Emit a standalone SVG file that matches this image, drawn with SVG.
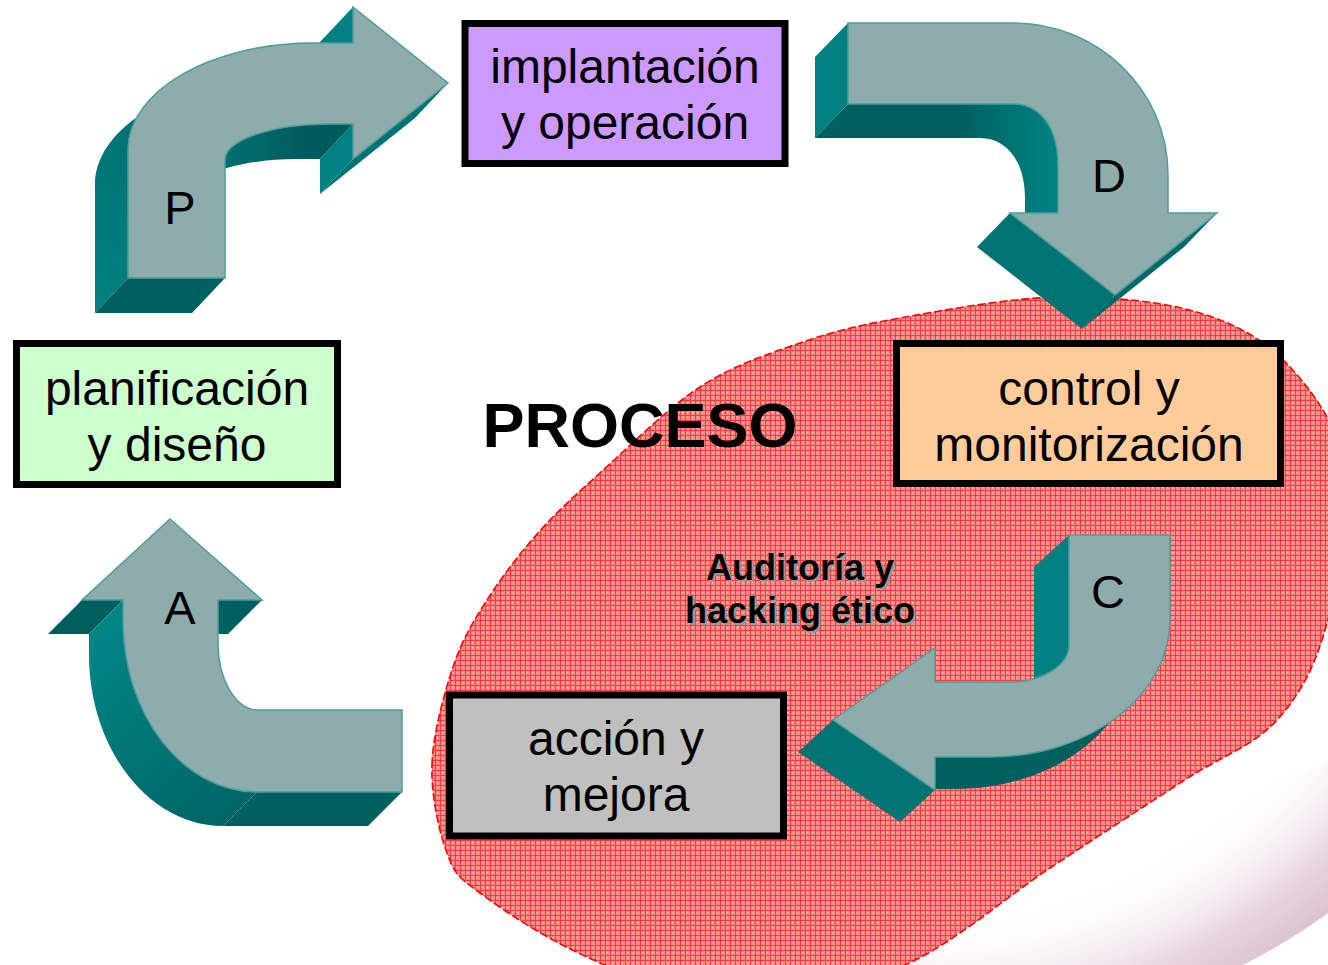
<svg xmlns="http://www.w3.org/2000/svg" width="1328" height="965" viewBox="0 0 1328 965">
  <defs>
    <pattern id="redGrid" width="5" height="5" patternUnits="userSpaceOnUse">
      <rect width="5" height="5" fill="#ff8c8c"/>
      <path d="M0 0.5H5M0.5 0V5" stroke="#ff3a3a" stroke-width="1"/>
      <rect x="2" y="2" width="1" height="1" fill="#ffd4d4"/>
    </pattern>
    <radialGradient id="swoosh" gradientUnits="userSpaceOnUse" cx="900" cy="400" r="668">
      <stop offset="0.78" stop-color="#ffffff" stop-opacity="0"/>
      <stop offset="0.93" stop-color="#e8d6e0"/>
      <stop offset="1" stop-color="#dcc2d2"/>
    </radialGradient>
    <linearGradient id="pCurve" gradientUnits="userSpaceOnUse" x1="100" y1="300" x2="240" y2="70">
      <stop offset="0" stop-color="#008080"/>
      <stop offset="1" stop-color="#006a6a"/>
    </linearGradient>
    <linearGradient id="pUnder" gradientUnits="userSpaceOnUse" x1="225" y1="0" x2="300" y2="0">
      <stop offset="0" stop-color="#006f6f"/>
      <stop offset="1" stop-color="#005c5c"/>
    </linearGradient>
    <linearGradient id="dInner" gradientUnits="userSpaceOnUse" x1="960" y1="0" x2="1045" y2="0">
      <stop offset="0" stop-color="#005f5f"/>
      <stop offset="1" stop-color="#008080"/>
    </linearGradient>
    <linearGradient id="aCurve" gradientUnits="userSpaceOnUse" x1="90" y1="640" x2="250" y2="826">
      <stop offset="0" stop-color="#008585"/>
      <stop offset="1" stop-color="#006262"/>
    </linearGradient>
    <style>
      .face{fill:#8facac;stroke:#4f9d9d;stroke-width:1.5;stroke-linejoin:miter}
      .teal{fill:#008080}
      .dark{fill:#005f5f}
      .mid{fill:#007373}
      .box{stroke:#000;stroke-width:7}
      .lbl{font-family:"Liberation Sans",Arial,sans-serif;font-size:48px;text-anchor:middle;fill:#000}
      .letter{font-family:"Liberation Sans",Arial,sans-serif;font-size:47px;text-anchor:middle;fill:#000}
      .title{font-family:"Liberation Sans",Arial,sans-serif;font-weight:bold;font-size:63px;text-anchor:middle;fill:#000}
      .note{font-family:"Liberation Sans",Arial,sans-serif;font-weight:bold;font-size:36px;text-anchor:middle}
    </style>
  </defs>

  <rect width="1328" height="965" fill="#ffffff"/>

  <!-- corner decoration -->
  <path d="M850,965 L1243,965 Q1290,941 1328,913 L1328,760 Z" fill="url(#swoosh)"/>

  <!-- hatched process area -->
  <g id="process-area">
    <path d="M432,765 C433,734 443.8,694.5 453,667 C462.2,639.5 472.8,622.3 487,600 C501.2,577.7 519.2,554.2 538,533 C556.8,511.8 573,497.3 600,473 C627,448.7 666.7,408.7 700,387 C733.3,365.3 766.7,354.5 800,343 C833.3,331.5 856.7,325.7 900,318 C943.3,310.3 1010,297.8 1060,297 C1110,296.2 1161.7,301.3 1200,313 C1238.3,324.7 1265.8,340.8 1290,367 C1314.2,393.2 1338.8,427.3 1345,470 C1351.2,512.7 1338.3,581.3 1327,623 C1315.7,664.7 1301,693.7 1277,720 C1253,746.3 1220.8,756.3 1183,781 C1145.2,805.7 1096.3,837.3 1050,868 C1003.7,898.7 956.7,941.3 905,965 C853.3,988.7 793,1011.3 740,1010 C696.7,1008.7 630.3,976.5 587,957 C543.7,937.5 503.3,910.3 480,893 C456.7,875.7 455,874.3 447,853 C439,831.7 431,796 432,765 Z" fill="url(#redGrid)" stroke="#ff0000" stroke-width="1.6" stroke-dasharray="8 3"/>
  </g>

  <!-- PDCA arrows -->
  <g id="connectors">
    <g id="arrow-P">
      <path class="teal" d="M353,7 L353,43 L320,78 L320,42 Z"/>
      <path class="mid" d="M353,159 L448,83 L415,118 L320,194 Z"/>
      <path class="teal" d="M353,124 L353,159 L320,194 L320,159 Z"/>
      <path fill="url(#pUnder)" d="M225,160 C225,140 272,124 330,124 L353,124 L320,159 L297,159 C239,159 192,175 192,195 Z"/>
      <path fill="url(#pCurve)" d="M313,43 C211,43 128,91 128,150 L128,278 L95,313 L95,185 C95,126 178,78 280,78 Z"/>
      <path class="dark" d="M128,278 L225,278 L192,313 L95,313 Z"/>
      <path class="face" d="M128,278 L225,278 L225,160 C225,140 272,124 330,124 L353,124 L353,159 L448,83 L353,7 L353,43 L313,43 C211,43 128,91 128,150 Z"/>
      <text class="letter" x="180" y="224">P</text>
    </g>
    <g id="arrow-D">
      <path class="teal" d="M848,23 L848,104 L815,138 L815,57 Z"/>
      <path fill="url(#dInner)" d="M848,104 L1013,104 C1038,104 1058,125 1058,165 L1058,213 L1025,247 L1025,199 C1025,159 1005,138 980,138 L815,138 Z"/>
      <path fill="#006a6a" d="M1217,213 L1115,295 L1082,329 L1184,247 Z"/>
      <path class="mid" d="M1010,213 L1115,295 L1082,329 L977,247 Z"/>
      <path class="face" d="M848,23 L1013,23 C1098,23 1168,90 1168,175 L1168,213 L1217,213 L1115,295 L1010,213 L1058,213 L1058,165 C1058,125 1038,104 1013,104 L848,104 Z"/>
      <text class="letter" x="1109" y="192">D</text>
    </g>
    <g id="arrow-C">
      <path class="teal" d="M1069,535 L1069,645 C1069,665 1043,682 1010,682 L975,714 C1008,714 1034,697 1034,677 L1034,567 Z"/>
      <path class="dark" d="M1170,620 C1170,696 1089,757 990,757 L935,757 L900,789 L955,789 C1054,789 1135,728 1135,652 Z"/>
      <path class="mid" d="M935,790 L833,720 L798,752 L900,822 Z"/>
      <path class="face" d="M1069,535 L1170,535 L1170,620 C1170,696 1089,757 990,757 L935,757 L935,790 L833,720 L935,648 L935,682 L1010,682 C1043,682 1069,665 1069,645 Z"/>
      <text class="letter" x="1108" y="608">C</text>
    </g>
    <g id="arrow-A">
      <path class="dark" d="M82,600 L123,600 L89,634 L48,634 Z"/>
      <path class="dark" d="M218,600 L262,600 L228,634 L184,634 Z"/>
      <path fill="url(#aCurve)" d="M123,600 L123,620 C123,715 183,792 257,792 L223,826 C149,826 89,749 89,654 L89,634 Z"/>
      <path class="dark" d="M257,792 L402,792 L368,826 L223,826 Z"/>
      <path class="face" d="M170,519 L262,600 L218,600 L218,643 C218,680 236,710 258,710 L402,710 L402,792 L257,792 C183,792 123,715 123,620 L123,600 L82,600 Z"/>
      <text class="letter" x="180" y="624">A</text>
    </g>
  </g>

  <!-- stages -->
  <g id="node-planificacion">
    <rect class="box" x="16.5" y="343.5" width="321" height="141" fill="#ccffcc"/>
    <text class="lbl" x="177" y="405">planificación</text>
    <text class="lbl" x="177" y="461">y diseño</text>
  </g>
  <g id="node-implantacion">
    <rect class="box" x="465" y="23.5" width="320" height="140" fill="#cc99ff"/>
    <text class="lbl" x="625" y="83">implantación</text>
    <text class="lbl" x="625" y="139">y operación</text>
  </g>
  <g id="node-control">
    <rect class="box" x="896.5" y="343.5" width="384" height="140" fill="#ffcc99"/>
    <text class="lbl" x="1089" y="405">control y</text>
    <text class="lbl" x="1089" y="461">monitorización</text>
  </g>
  <g id="node-accion">
    <rect class="box" x="449.5" y="695" width="334" height="141" fill="#c0c0c0"/>
    <text class="lbl" x="616" y="755">acción y</text>
    <text class="lbl" x="616" y="811">mejora</text>
  </g>

  <!-- captions -->
  <g id="captions">
    <text class="title" x="640" y="447">PROCESO</text>
    <g fill="#999999" transform="translate(2,2)">
      <text class="note" x="800" y="580">Auditoría y</text>
      <text class="note" x="800" y="623">hacking ético</text>
    </g>
    <g fill="#000000">
      <text class="note" x="800" y="580">Auditoría y</text>
      <text class="note" x="800" y="623">hacking ético</text>
    </g>
  </g>
</svg>
